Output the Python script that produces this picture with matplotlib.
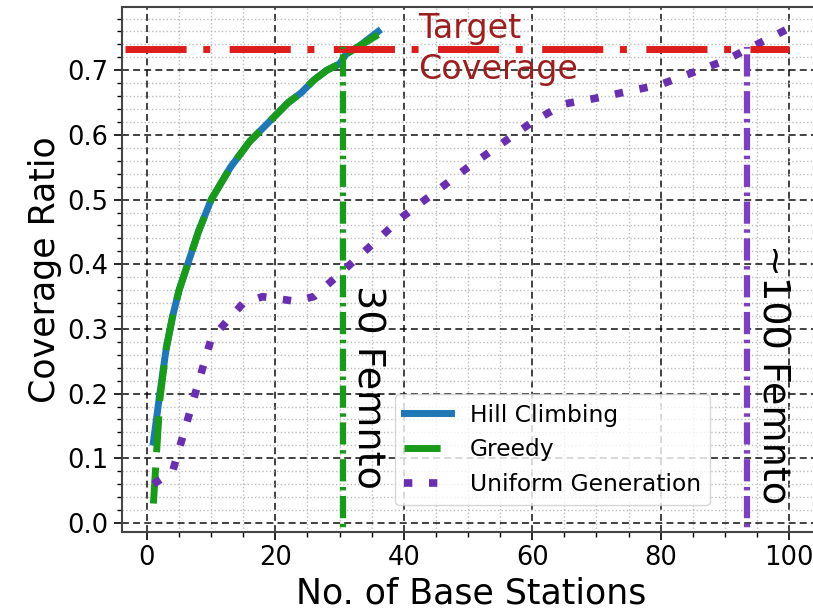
import numpy as np
import matplotlib
matplotlib.use("Agg")
import matplotlib.pyplot as plt
from matplotlib.ticker import MultipleLocator

# number of base stations vs coverage ratio
hill_x = [1, 2, 3, 4, 5, 6, 8, 10, 13, 16, 19, 22, 24, 26, 28, 30, 31, 33, 36]
hill_y = [0.125, 0.20, 0.27, 0.32, 0.36, 0.39, 0.45, 0.50, 0.55, 0.59, 0.62,
          0.65, 0.665, 0.685, 0.70, 0.71, 0.725, 0.737, 0.76]

greedy_x = [1, 2, 3, 4, 5, 6, 8, 10, 13, 16, 19, 22, 24, 26, 28, 30, 31, 33, 36]
greedy_y = [0.03, 0.19, 0.27, 0.32, 0.36, 0.39, 0.45, 0.50, 0.55, 0.59, 0.62,
            0.65, 0.665, 0.685, 0.70, 0.71, 0.725, 0.737, 0.755]

unif_x = [1, 4, 10, 15, 18, 23, 26, 30, 40, 50, 60, 65, 70, 80, 90, 100]
unif_y = [0.06, 0.08, 0.285, 0.34, 0.35, 0.343, 0.35, 0.385, 0.475, 0.55,
          0.62, 0.648, 0.657, 0.678, 0.715, 0.765]

target = 0.733
n_greedy = 30.5
n_unif = 93.4

plt.rcParams['lines.scale_dashes'] = False

fig = plt.figure(figsize=(8.13, 6.12), dpi=100)
ax = fig.add_axes([0.1496, 0.1307, 0.86, 0.858])

ax.plot(hill_x, hill_y, color='#1f77b4', lw=5, label='Hill Climbing')
ax.plot(greedy_x, greedy_y, color='#1a9a1a', lw=5, linestyle=(0, (26, 11)),
        label='Greedy')
ax.plot(unif_x, unif_y, color='#6a2fae', lw=5.5, linestyle=(0, (6, 12)),
        label='Uniform Generation')

ax.axhline(target, xmin=0.005, xmax=0.955, color='#dd1c1c', lw=5,
           linestyle=(0, (44, 12, 5, 14)))
ax.vlines(n_greedy, -0.05, target + 0.003, color='#1a9a1a', lw=4.5,
          linestyle=(0, (16, 4, 2.5, 4)))
ax.vlines(n_unif, -0.05, target + 0.003, color='#7b3fbf', lw=4.5,
          linestyle=(0, (16, 4, 2.5, 4)))

ax.text(42.2, target, 'Target\nCoverage', color='#9b1f1f', fontsize=24,
        ha='left', va='center', linespacing=1.3)
ax.text(34.4, 0.21, '30 Femnto', rotation=-90, fontsize=27.5,
        ha='center', va='center')
ax.text(97.5, 0.23, '~100 Femnto', rotation=-90, fontsize=27.5,
        ha='center', va='center')

ax.set_xlim(-3.95, 104.95)
ax.set_ylim(-0.014, 0.798)
ax.xaxis.set_major_locator(MultipleLocator(20))
ax.xaxis.set_minor_locator(MultipleLocator(5))
ax.yaxis.set_major_locator(MultipleLocator(0.1))
ax.yaxis.set_minor_locator(MultipleLocator(0.02))
ax.grid(which='major', color='black', linestyle=(0, (5, 3)), lw=1.3, alpha=0.8)
ax.grid(which='minor', color='#bbbbbb', linestyle=':', lw=1.0)
ax.set_axisbelow(True)
ax.tick_params(which='major', labelsize=18.5, length=6, width=1.2)
ax.tick_params(which='minor', length=3.5, width=1)
for s in ax.spines.values():
    s.set_color('#444444')
    s.set_linewidth(1.5)

ax.set_xlabel('No. of Base Stations', fontsize=25)
ax.set_ylabel('Coverage Ratio', fontsize=25)

ax.legend(loc='lower left', bbox_to_anchor=(0.391, 0.051), borderaxespad=0,
          fontsize=16.8)

fig.savefig('out.png', dpi=100)
